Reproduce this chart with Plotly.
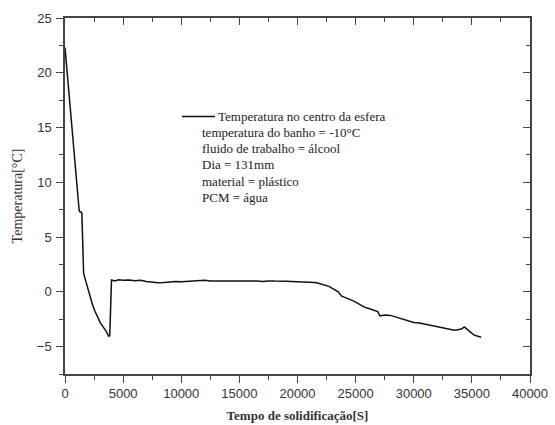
import plotly.graph_objects as go

# Time [s] and temperature [°C]
tempo = [0, 150, 300, 500, 700, 900, 1050, 1150, 1220, 1300, 1400, 1450, 1500, 1550,
         1600, 1700, 1850, 2000, 2170, 2350, 2550, 2750, 2900, 3050, 3250, 3450, 3600,
         3700, 3780, 3850, 3900, 3950, 4000, 4300, 4600, 5000, 5500, 6000, 6500, 7000,
         7500, 8000, 8500, 9000, 9500, 10000, 10500, 11000, 11500, 12000, 12500, 13000,
         13500, 14000, 14500, 15000, 15500, 16000, 16500, 17000, 17500, 18000, 18500,
         19000, 19500, 20000, 20500, 21000, 21500, 21800, 22200, 22700, 23100, 23500,
         23800, 24200, 24700, 25200, 25700, 26200, 26600, 26900, 27100, 27500, 28000,
         28500, 29000, 29500, 30000, 30500, 31000, 31500, 32000, 32500, 33000, 33500,
         33800, 34100, 34350, 34600, 34900, 35200, 35500, 35800]
temperatura = [22.3, 20.4, 18.3, 15.9, 13.4, 10.9, 9.0, 7.9, 7.4, 7.3, 7.3, 7.2, 4.5, 2.2,
               1.7, 1.3, 0.7, 0.1, -0.5, -1.1, -1.7, -2.2, -2.6, -2.85, -3.15, -3.45, -3.7,
               -3.95, -4.05, -4.0, -2.0, 1.0, 1.08, 1.0, 1.1, 1.05, 1.08, 1.02, 1.05, 0.95,
               0.9, 0.82, 0.85, 0.9, 0.95, 0.92, 0.95, 0.98, 1.0, 1.05, 1.0, 0.98,
               1.0, 0.95, 0.98, 1.0, 1.02, 0.98, 1.0, 0.95, 1.0, 0.98, 1.0,
               0.97, 0.95, 0.92, 0.93, 0.9, 0.85, 0.78, 0.65, 0.5, 0.25, 0.0,
               -0.4, -0.55, -0.78, -1.05, -1.37, -1.55, -1.7, -1.8, -2.2, -2.12, -2.15,
               -2.3, -2.45, -2.6, -2.8, -2.85, -2.95, -3.05, -3.15, -3.3, -3.4, -3.5,
               -3.45, -3.4, -3.2, -3.45, -3.7, -3.95, -4.05, -4.15]

legenda = ["Temperatura no centro da esfera",
           "temperatura do banho = -10°C",
           "fluido de trabalho = álcool",
           "Dia = 131mm",
           "material = plástico",
           "PCM = água"]
legenda_y = [16.0, 14.55, 13.05, 11.6, 10.1, 8.65]

X_RANGE = [0, 40000]
Y_RANGE = [-7.5, 25]
AXC = "#444444"
SERIF = "Liberation Serif"
SANS = "Liberation Sans"

fig = go.Figure()
fig.add_trace(go.Scatter(x=tempo, y=temperatura, mode="lines",
                         line=dict(color="#111111", width=1.5), showlegend=False))
# helper trace (transparent) so the mirrored top/right axes are drawn
fig.add_trace(go.Scatter(x=tempo, y=temperatura, mode="lines", xaxis="x2", yaxis="y2",
                         line=dict(width=1, color="rgba(0,0,0,0)"), hoverinfo="skip",
                         showlegend=False))

common_tick = dict(showline=True, linecolor=AXC, linewidth=1.5, showgrid=False,
                   zeroline=False, tickcolor=AXC, tickwidth=1.2, ticklen=7,
                   automargin=False)
minor_out = dict(ticks="outside", ticklen=4, tickcolor=AXC, tickwidth=1.2)
minor_in = dict(ticks="inside", ticklen=4, tickcolor=AXC, tickwidth=1.2)

fig.update_layout(
    width=555, height=425,
    margin=dict(l=65, r=25, t=18, b=51),
    paper_bgcolor="white", plot_bgcolor="white",
    xaxis=dict(range=X_RANGE, dtick=5000, tick0=0, ticks="outside", tickformat="d",
               mirror=True, minor=dict(dtick=2500, **minor_out),
               tickfont=dict(family=SANS, size=13, color="#333"),
               title=dict(text="<b>Tempo de solidificação[S]</b>",
                          font=dict(family=SERIF, size=13, color="#333"), standoff=11),
               **common_tick),
    yaxis=dict(range=Y_RANGE, dtick=5, tick0=0, ticks="outside", tickformat="d",
               mirror=True, minor=dict(dtick=2.5, **minor_out), ticklabelstandoff=2,
               tickfont=dict(family=SANS, size=13, color="#333"),
               title=dict(text="Temperatura[°C]",
                          font=dict(family=SERIF, size=14, color="#333"), standoff=11),
               **common_tick),
    xaxis2=dict(range=X_RANGE, overlaying="x", side="top", anchor="y2",
                dtick=5000, tick0=0, ticks="inside", showticklabels=False,
                minor=dict(dtick=2500, **minor_in), **common_tick),
    yaxis2=dict(range=Y_RANGE, overlaying="y", side="right", anchor="x2",
                dtick=5, tick0=0, ticks="inside", showticklabels=False,
                minor=dict(dtick=2.5, **minor_in), **common_tick),
)

# legend-like line sample
fig.add_shape(type="line", x0=10065, x1=12903, y0=legenda_y[0], y1=legenda_y[0],
              xref="x", yref="y", line=dict(color="#111111", width=1.5))
for i, (txt, yy) in enumerate(zip(legenda, legenda_y)):
    fig.add_annotation(x=12963 if i == 0 else 11613, y=yy, xref="x", yref="y",
                       text=txt, showarrow=False, xanchor="left", yanchor="middle",
                       font=dict(family=SERIF, size=13, color="#222"))

fig.write_html("out.html", config={"displayModeBar": False},
               post_script="document.body.style.margin='0';")
